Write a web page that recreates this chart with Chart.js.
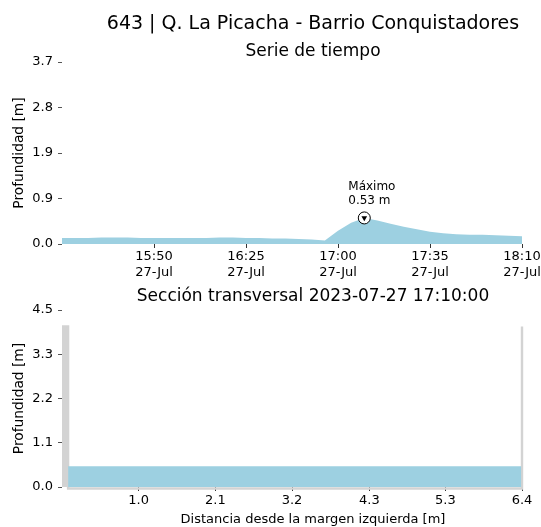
<!DOCTYPE html>
<html>
<head>
<meta charset="utf-8">
<script src="https://cdn.jsdelivr.net/npm/chart.js@4.4.0/dist/chart.umd.min.js"></script>
<style>
  html, body { margin: 0; padding: 0; background: #fff; overflow: hidden; width: 541px; height: 527px; }
  #wrap { position: relative; width: 541px; height: 527px; overflow: hidden; }
  #serie { position: absolute; left: 0; top: 0; width: 626px; height: 284px; }
  #seccion { position: absolute; left: 0; top: 278px; width: 626px; height: 249px; }
</style>
</head>
<body>
<div id="wrap">
  <canvas id="serie" width="626" height="284"></canvas>
  <canvas id="seccion" width="626" height="249"></canvas>
</div>
<script>
// Chart data
const stationTitle = '643 | Q. La Picacha - Barrio Conquistadores';
const serieTitle = 'Serie de tiempo';
const sectionTime = '2023-07-27 17:10:00';
const dateLabel = '27-Jul';

const times = ['15:15', '15:20', '15:25', '15:30', '15:35', '15:40', '15:45', '15:50', '15:55', '16:00',
               '16:05', '16:10', '16:15', '16:20', '16:25', '16:30', '16:35', '16:40', '16:45', '16:50',
               '16:55', '17:00', '17:05', '17:10', '17:15', '17:20', '17:25', '17:30', '17:35', '17:40',
               '17:45', '17:50', '17:55', '18:00', '18:05', '18:10'];
const depths = [0.12, 0.12, 0.12, 0.13, 0.13, 0.13, 0.12, 0.12, 0.12, 0.12,
                0.12, 0.12, 0.13, 0.13, 0.12, 0.12, 0.11, 0.11, 0.10, 0.09,
                0.07, 0.27, 0.43, 0.53, 0.48, 0.41, 0.35, 0.30, 0.25, 0.22,
                0.20, 0.19, 0.19, 0.18, 0.17, 0.16];
const timeTicks = ['15:50', '16:25', '17:00', '17:35', '18:10'];
const serieYTicks = [0, 0.925, 1.85, 2.775, 3.7];
const serieYLabels = ['0.0', '0.9', '1.9', '2.8', '3.7'];

// cross section (distance [m], height [m])
const bankX = [-0.03, 0.055, 0.055, 6.39, 6.39];
const bankY = [4.08, 4.08, -0.04, -0.04, 4.08];
const waterX = [0.055, 6.38];
const secXTicks = [1.04, 2.11, 3.18, 4.26, 5.32, 6.39];
const secXLabels = ['1.0', '2.1', '3.2', '4.3', '5.3', '6.4'];
const secYTicks = [0, 1.125, 2.25, 3.375, 4.5];
const secYLabels = ['0.0', '1.1', '2.2', '3.3', '4.5'];

const waterBlue = '#9dd0e1';
const bankGrey = '#d3d3d3';
const FONT = 'DejaVu Sans';

Chart.defaults.font.family = FONT;
Chart.defaults.color = '#000';

function toMin(t) {
    const p = t.split(':');
    return parseInt(p[0]) * 60 + parseInt(p[1]);
}
function fmtMin(v) {
    const h = Math.floor(v / 60), m = Math.round(v % 60);
    return String(h).padStart(2, '0') + ':' + String(m).padStart(2, '0');
}

const seriePoints = times.map((t, i) => ({ x: toMin(t), y: depths[i] }));
const peakIdx = depths.indexOf(Math.max(...depths));
const peak = seriePoints[peakIdx];
const waterLevel = depths[times.indexOf(sectionTime.slice(11, 16))];

// "Máximo" label next to the peak marker
const peakLabel = {
    id: 'peakLabel',
    afterDatasetsDraw(chart) {
        const { ctx, scales: { x, y } } = chart;
        const px = x.getPixelForValue(peak.x);
        const py = y.getPixelForValue(peak.y);
        ctx.save();
        ctx.font = '12px "' + FONT + '"';
        ctx.fillStyle = '#000';
        ctx.textAlign = 'left';
        ctx.textBaseline = 'middle';
        ctx.fillText('Máximo', px - 16, py - 31);
        ctx.fillText(peak.y.toFixed(2) + ' m', px - 16, py - 17);
        ctx.restore();
    }
};

const tickFont = { family: FONT, size: 13, lineHeight: 1.23 };
const axisTitleFont = { family: FONT, size: 13.8 };

// empty right-hand axis: keeps the plot narrow while titles centre on the whole canvas
const rightSpacer = {
    position: 'right',
    ticks: { display: false },
    grid: { display: false },
    border: { display: false },
    afterFit: s => { s.width = 104; }
};

new Chart(document.getElementById('serie'), {
    type: 'line',
    data: {
        datasets: [
            {
                data: [peak], showLine: false, pointStyle: 'triangle', rotation: 180,
                pointRadius: 3.3, pointBackgroundColor: '#000', pointBorderWidth: 0
            },
            {
                data: [peak], showLine: false, pointStyle: 'circle',
                pointRadius: 6, pointBackgroundColor: '#fff', pointBorderColor: '#000', pointBorderWidth: 1
            },
            {
                data: seriePoints, fill: 'origin', backgroundColor: waterBlue,
                borderWidth: 0, pointRadius: 0
            }
        ]
    },
    options: {
        responsive: false,
        animation: false,
        events: [],
        layout: { padding: 0 },
        plugins: {
            legend: { display: false },
            tooltip: { enabled: false },
            title: {
                display: true, text: stationTitle, color: '#000',
                font: { family: FONT, size: 19, weight: 'normal' },
                padding: { top: 12.6, bottom: 4.4 }
            },
            subtitle: {
                display: true, text: serieTitle, color: '#000',
                font: { family: FONT, size: 17, weight: 'normal' },
                padding: { top: 1.5, bottom: 0.3 }
            }
        },
        scales: {
            x: {
                type: 'linear',
                min: toMin(times[0]),
                max: toMin(times[times.length - 1]),
                afterBuildTicks: s => { s.ticks = timeTicks.map(t => ({ value: toMin(t) })); },
                afterFit: s => { s.height = 40; s.paddingLeft = 0; s.paddingRight = 0; },
                ticks: {
                    autoSkip: false, maxRotation: 0, padding: 1, font: tickFont, color: '#000',
                    callback: v => [fmtMin(v), dateLabel]
                },
                grid: { drawOnChartArea: false, drawTicks: true, tickLength: 4, tickColor: '#333' },
                border: { display: false }
            },
            y: {
                min: 0,
                max: serieYTicks[serieYTicks.length - 1],
                afterBuildTicks: s => { s.ticks = serieYTicks.map(v => ({ value: v })); },
                afterFit: s => { s.width = 62; },
                ticks: {
                    padding: 5, font: tickFont, color: '#000',
                    callback: (v, i) => serieYLabels[i]
                },
                grid: { drawOnChartArea: false, drawTicks: true, tickLength: 4, tickColor: '#555' },
                border: { display: false },
                title: {
                    display: true, text: 'Profundidad [m]', font: axisTitleFont, color: '#000',
                    padding: { top: 10.7, bottom: 0 }
                }
            },
            y2: rightSpacer
        }
    },
    plugins: [peakLabel]
});

new Chart(document.getElementById('seccion'), {
    type: 'line',
    data: {
        datasets: [
            {
                data: waterX.map(x => ({ x: x, y: waterLevel })), fill: 'origin',
                backgroundColor: waterBlue, borderWidth: 0, pointRadius: 0
            },
            {
                data: bankX.map((x, i) => ({ x: x, y: bankY[i] })), fill: 'origin',
                backgroundColor: bankGrey, borderColor: bankGrey, borderWidth: 2.4,
                pointRadius: 0, clip: 6
            }
        ]
    },
    options: {
        responsive: false,
        animation: false,
        events: [],
        layout: { padding: 0 },
        plugins: {
            legend: { display: false },
            tooltip: { enabled: false },
            title: {
                display: true, text: 'Sección transversal ' + sectionTime, color: '#000',
                font: { family: FONT, size: 17, weight: 'normal' },
                padding: { top: 8.3, bottom: 3.3 }
            },
            subtitle: {
                display: true, position: 'bottom', text: 'Distancia desde la margen izquierda [m]',
                color: '#000', font: { family: FONT, size: 13, weight: 'normal' },
                padding: { top: 2.4, bottom: 0 }
            }
        },
        scales: {
            x: {
                type: 'linear',
                min: bankX[0],
                max: secXTicks[secXTicks.length - 1],
                afterBuildTicks: s => { s.ticks = secXTicks.map(v => ({ value: v })); },
                afterFit: s => { s.height = 22; s.paddingLeft = 0; s.paddingRight = 0; },
                ticks: {
                    autoSkip: false, maxRotation: 0, padding: 1.5, font: tickFont, color: '#000',
                    callback: (v, i) => secXLabels[i]
                },
                grid: { drawOnChartArea: false, drawTicks: true, tickLength: 4, tickColor: '#333' },
                border: { display: false }
            },
            y: {
                min: 0,
                max: secYTicks[secYTicks.length - 1],
                afterBuildTicks: s => { s.ticks = secYTicks.map(v => ({ value: v })); },
                afterFit: s => { s.width = 62; },
                ticks: {
                    padding: 5, font: tickFont, color: '#000',
                    callback: (v, i) => secYLabels[i]
                },
                grid: { drawOnChartArea: false, drawTicks: true, tickLength: 4, tickColor: '#555' },
                border: { display: false },
                title: {
                    display: true, text: 'Profundidad [m]', font: axisTitleFont, color: '#000',
                    padding: { top: 10.7, bottom: 0 }
                }
            },
            y2: rightSpacer
        }
    }
});
</script>
</body>
</html>
